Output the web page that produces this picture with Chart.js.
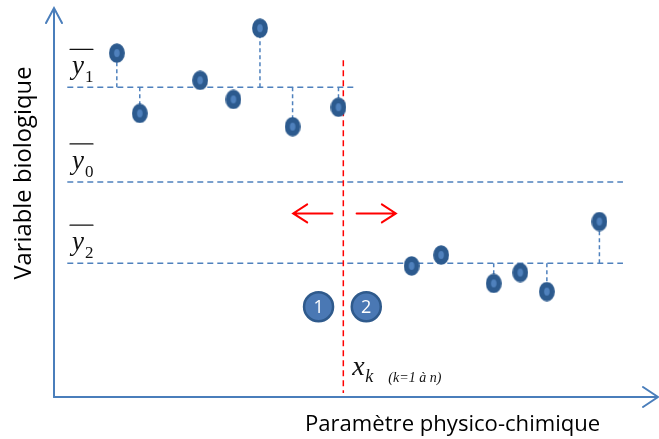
<!DOCTYPE html>
<html>
<head>
<meta charset="utf-8">
<script src="https://cdn.jsdelivr.net/npm/chart.js@4.4.1/dist/chart.umd.min.js"></script>
<style>
html, body { margin: 0; padding: 0; background: #fff; }
#wrap { width: 659px; height: 439px; }
</style>
</head>
<body>
<div id="wrap"><canvas id="chart" width="659" height="439"></canvas></div>
<script>
// values, arbitrary 0-100 units on both axes
const groupOneX = [10.4, 14.2, 24.2, 29.7, 34.1, 39.5, 47.1];
const groupOneY = [88.4, 72.9, 81.4, 76.5, 94.8, 69.5, 74.5];
const groupOneStem = [true, true, false, false, true, true, true];

const groupTwoX = [59.2, 64.1, 72.8, 77.2, 81.6, 90.3];
const groupTwoY = [33.7, 36.5, 29.2, 32.0, 27.1, 45.1];
const groupTwoStem = [false, false, true, false, true, true];

// mean levels y1, y0, y2
const meanNames = ['1', '0', '2'];
const meanLevels = [79.6, 55.3, 34.4];
const meanStart = 2.2;
const meanEnds = [49.8, 94.2, 94.2];

// split point x_k
const splitX = 47.9;
const splitRange = [1.0, 86.6];
const arrowLevel = 47.2;
const arrowLeft = [46.1, 39.6];   // from, tip
const arrowRight = [50.1, 56.6];  // from, tip

const badgeNames = ['1', '2'];
const badgeX = [43.8, 51.7];
const badgeY = [23.2, 23.2];

const yTitle = 'Variable biologique';
const xTitle = 'Paramètre physico-chimique';

const AXIS_BLUE = '#4a7ebb';
const LINE_BLUE = '#4f81bd';

function makeMarker() {
    const c = document.createElement('canvas');
    c.width = 16;
    c.height = 20;
    const g = c.getContext('2d');
    g.fillStyle = '#2c5a8e';
    g.beginPath();
    g.ellipse(8, 10, 7.9, 9.8, 0, 0, Math.PI * 2);
    g.fill();
    g.fillStyle = '#4f81bd';
    g.beginPath();
    g.ellipse(8, 10, 2.8, 4, 0, 0, Math.PI * 2);
    g.fill();
    return c;
}

function toPoints(xs, ys) {
    return xs.map((x, i) => ({ x: x, y: ys[i] }));
}

// dashed drops from each point down/up to its group mean
function stemPoints(xs, ys, flags, level) {
    const out = [];
    xs.forEach((x, i) => {
        if (!flags[i]) return;
        out.push({ x: x, y: level }, { x: x, y: ys[i] }, { x: x, y: null });
    });
    return out;
}

function lineSet(data, color, dash, order) {
    return {
        data: data,
        showLine: true,
        borderColor: color,
        borderWidth: 1.5,
        borderDash: dash,
        pointRadius: 0,
        pointHoverRadius: 0,
        spanGaps: false,
        order: order
    };
}

function fitFont(ctx, text, style, family, width) {
    let size = 30;
    ctx.font = style + ' ' + size + 'px ' + family;
    size = size * width / ctx.measureText(text).width;
    return style + ' ' + size.toFixed(1) + 'px ' + family;
}

function openArrow(ctx, x0, y0, x1, y1, len, half) {
    const a = Math.atan2(y1 - y0, x1 - x0);
    ctx.beginPath();
    ctx.moveTo(x0, y0);
    ctx.lineTo(x1, y1);
    ctx.moveTo(x1 - len * Math.cos(a) + half * Math.sin(a), y1 - len * Math.sin(a) - half * Math.cos(a));
    ctx.lineTo(x1, y1);
    ctx.lineTo(x1 - len * Math.cos(a) - half * Math.sin(a), y1 - len * Math.sin(a) + half * Math.cos(a));
    ctx.stroke();
}

const annotations = {
    id: 'annotations',
    afterDatasetsDraw(chart) {
        const ctx = chart.ctx;
        const area = chart.chartArea;
        const xs = chart.scales.x;
        const ys = chart.scales.y;
        ctx.save();

        // axes with open arrow heads
        ctx.strokeStyle = AXIS_BLUE;
        ctx.lineWidth = 2;
        ctx.lineCap = 'round';
        openArrow(ctx, area.left, area.bottom, area.left, area.top, 15, 8);
        openArrow(ctx, area.left, area.bottom, area.right, area.bottom, 15, 10);

        // red direction arrows
        ctx.strokeStyle = '#ff0000';
        ctx.lineWidth = 2;
        const ay = ys.getPixelForValue(arrowLevel);
        openArrow(ctx, xs.getPixelForValue(arrowLeft[0]), ay, xs.getPixelForValue(arrowLeft[1]), ay, 14, 9);
        openArrow(ctx, xs.getPixelForValue(arrowRight[0]), ay, xs.getPixelForValue(arrowRight[1]), ay, 14, 9);

        // badge numbers
        const badgeMeta = chart.getDatasetMeta(chart.data.datasets.length - 1);
        ctx.fillStyle = '#ffffff';
        ctx.font = '18px "Open Sans"';
        ctx.textAlign = 'center';
        ctx.textBaseline = 'middle';
        badgeMeta.data.forEach((pt, i) => {
            ctx.fillText(badgeNames[i], pt.x, pt.y + 1);
        });

        // mean labels: y with overline and subscript
        ctx.fillStyle = '#111';
        ctx.strokeStyle = '#111';
        ctx.lineWidth = 1.2;
        ctx.textAlign = 'left';
        ctx.textBaseline = 'alphabetic';
        meanLevels.forEach((lv, i) => {
            const py = ys.getPixelForValue(lv);
            ctx.font = 'italic 27px "Liberation Serif"';
            ctx.fillText('y', 72, py - 13);
            ctx.font = '17px "Liberation Serif"';
            ctx.fillText(meanNames[i], 85, py - 5);
            ctx.beginPath();
            ctx.moveTo(70, py - 38);
            ctx.lineTo(93, py - 38);
            ctx.stroke();
        });

        // x_k label
        const kx = xs.getPixelForValue(splitX) + 9;
        ctx.font = 'italic 28px "Liberation Serif"';
        ctx.fillText('x', kx, 375);
        ctx.font = 'italic 18px "Liberation Serif"';
        ctx.fillText('k', kx + 13, 382);
        ctx.font = 'italic 14px "Liberation Serif"';
        ctx.fillText('(k=1 à n)', kx + 36, 382);

        // axis titles
        ctx.fillStyle = '#000';
        ctx.font = fitFont(ctx, xTitle, 'normal', '"Open Sans"', 295);
        ctx.textAlign = 'left';
        ctx.fillText(xTitle, 305, 431);

        ctx.translate(31, 173);
        ctx.rotate(-Math.PI / 2);
        ctx.font = fitFont(ctx, yTitle, 'normal', '"Open Sans"', 213);
        ctx.textAlign = 'center';
        ctx.fillText(yTitle, 0, 0);

        ctx.restore();
    }
};

const marker = makeMarker();

const datasets = [];
meanLevels.forEach((lv, i) => {
    datasets.push(lineSet([{ x: meanStart, y: lv }, { x: meanEnds[i], y: lv }], LINE_BLUE, [6, 4], 5));
});
datasets.push(lineSet(stemPoints(groupOneX, groupOneY, groupOneStem, meanLevels[0]), LINE_BLUE, [4, 3], 4));
datasets.push(lineSet(stemPoints(groupTwoX, groupTwoY, groupTwoStem, meanLevels[2]), LINE_BLUE, [4, 3], 4));
datasets.push(lineSet([{ x: splitX, y: splitRange[1] }, { x: splitX, y: splitRange[0] }], '#ff0000', [6, 4], 3));
datasets.push({
    data: toPoints(groupOneX, groupOneY).concat(toPoints(groupTwoX, groupTwoY)),
    pointStyle: marker,
    pointRadius: 8,
    pointHoverRadius: 8,
    order: 1
});
datasets.push({
    data: toPoints(badgeX, badgeY),
    pointRadius: 14.5,
    pointHoverRadius: 14.5,
    backgroundColor: '#4a78b4',
    borderColor: '#2f5a8c',
    borderWidth: 2.5,
    order: 1
});

new Chart(document.getElementById('chart'), {
    type: 'scatter',
    data: { datasets: datasets },
    options: {
        responsive: false,
        animation: false,
        events: [],
        layout: { autoPadding: false, padding: { left: 54, top: 8, right: 1, bottom: 42 } },
        scales: {
            x: { type: 'linear', min: 0, max: 100, display: false },
            y: { type: 'linear', min: 0, max: 100, display: false }
        },
        plugins: {
            legend: { display: false },
            tooltip: { enabled: false }
        }
    },
    plugins: [annotations]
});
</script>
</body>
</html>
